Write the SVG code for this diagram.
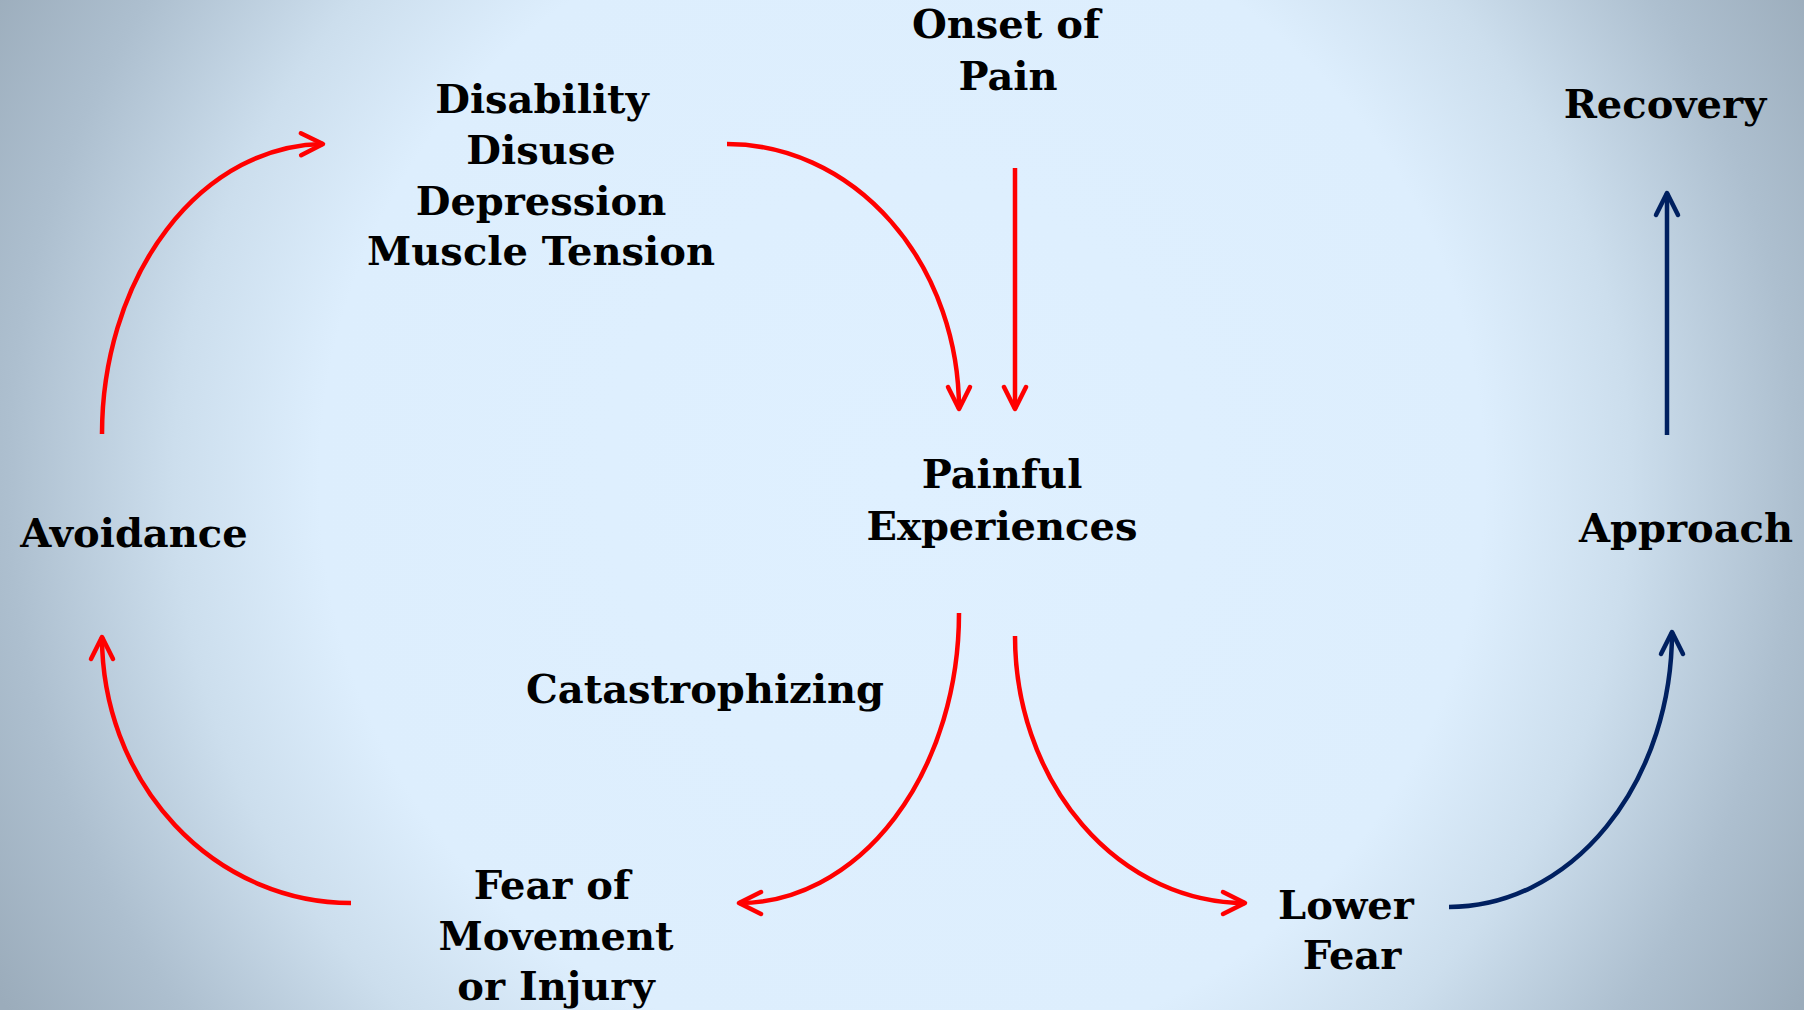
<svg xmlns="http://www.w3.org/2000/svg" width="1804" height="1010" viewBox="0 0 1804 1010">
  <defs>
    <radialGradient id="bg" gradientUnits="userSpaceOnUse" cx="902" cy="480" r="1040">
      <stop offset="0" stop-color="#DFF0FF"/>
      <stop offset="0.56" stop-color="#DDEEFD"/>
      <stop offset="0.7" stop-color="#CCDEED"/>
      <stop offset="0.86" stop-color="#ADBFCF"/>
      <stop offset="1" stop-color="#9BACBB"/>
    </radialGradient>
    <marker id="headRed" markerUnits="userSpaceOnUse" markerWidth="40" markerHeight="40" refX="0" refY="0" viewBox="-30 -20 40 40" orient="auto" overflow="visible">
      <path d="M-22,-11 L0,0 L-22,11" fill="none" stroke="#FF0000" stroke-width="4.5" stroke-linecap="round" stroke-linejoin="round"/>
    </marker>
    <marker id="headBlue" markerUnits="userSpaceOnUse" markerWidth="40" markerHeight="40" refX="0" refY="0" viewBox="-30 -20 40 40" orient="auto" overflow="visible">
      <path d="M-22,-11 L0,0 L-22,11" fill="none" stroke="#002060" stroke-width="4.5" stroke-linecap="round" stroke-linejoin="round"/>
    </marker>
  </defs>
  <style>
    .lbl { font-family: "DejaVu Serif", "Liberation Serif", serif; font-weight: bold; font-size: 40px; fill: #000000; text-anchor: middle; }
    .red { fill: none; stroke: #FF0000; stroke-width: 4.5; marker-end: url(#headRed); }
    .blue { fill: none; stroke: #002060; stroke-width: 4.5; marker-end: url(#headBlue); }
  </style>

  <rect x="0" y="0" width="1804" height="1010" fill="url(#bg)"/>

  <g id="connectors">
    <!-- Avoidance -> Disability -->
    <path class="red" d="M102,434 A223,290 0 0 1 323,144"/>
    <!-- Disability -> Painful Experiences -->
    <path class="red" d="M727,144 A232,265 0 0 1 959,409"/>
    <!-- Onset of Pain -> Painful Experiences -->
    <path class="red" d="M1015,168 L1015,409"/>
    <!-- Painful Experiences -> Fear of Movement -->
    <path class="red" d="M959,613 A220,290 0 0 1 739,903"/>
    <!-- Painful Experiences -> Lower Fear -->
    <path class="red" d="M1015,636 A230,267 0 0 0 1245,903"/>
    <!-- Fear of Movement -> Avoidance -->
    <path class="red" d="M351,903 A249,266 0 0 1 102,637"/>
    <!-- Lower Fear -> Approach -->
    <path class="blue" d="M1449,907 A223,275 0 0 0 1672,632"/>
    <!-- Approach -> Recovery -->
    <path class="blue" d="M1667,435 L1667,193"/>
  </g>

  <g id="onset">
    <text class="lbl" x="1006" y="38">Onset of</text>
    <text class="lbl" x="1008" y="90">Pain</text>
  </g>
  <g id="disability">
    <text class="lbl" x="542" y="113">Disability</text>
    <text class="lbl" x="541" y="164">Disuse</text>
    <text class="lbl" x="541" y="215">Depression</text>
    <text class="lbl" x="541" y="265">Muscle Tension</text>
  </g>
  <g id="recovery">
    <text class="lbl" x="1665" y="118">Recovery</text>
  </g>
  <g id="painful">
    <text class="lbl" x="1002" y="488">Painful</text>
    <text class="lbl" x="1002" y="540">Experiences</text>
  </g>
  <g id="avoidance">
    <text class="lbl" x="134" y="547">Avoidance</text>
  </g>
  <g id="approach">
    <text class="lbl" x="1686" y="542">Approach</text>
  </g>
  <g id="catastrophizing">
    <text class="lbl" x="705" y="703">Catastrophizing</text>
  </g>
  <g id="fear-of-movement">
    <text class="lbl" x="552" y="899">Fear of</text>
    <text class="lbl" x="556" y="950">Movement</text>
    <text class="lbl" x="556" y="1000">or Injury</text>
  </g>
  <g id="lower-fear">
    <text class="lbl" x="1346" y="919">Lower</text>
    <text class="lbl" x="1352" y="969">Fear</text>
  </g>
</svg>
